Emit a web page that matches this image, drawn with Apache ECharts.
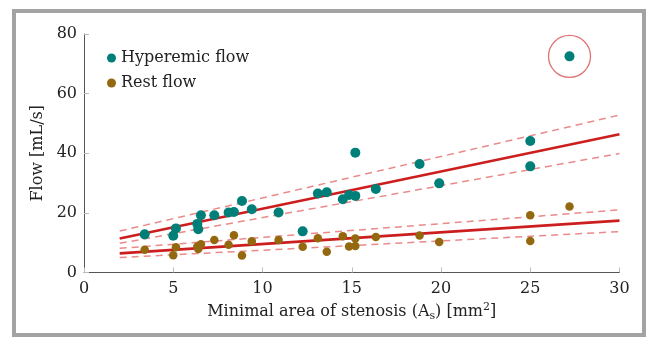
<!DOCTYPE html>
<html>
<head>
<meta charset="utf-8">
<script src="https://cdn.jsdelivr.net/npm/echarts@6/dist/echarts.min.js"></script>
<style>
  html, body { margin: 0; padding: 0; background: #fff; }
  #chart { width: 648px; height: 339px; }
</style>
</head>
<body>
<div id="chart"></div>
<script>
// Flujo vs área mínima de estenosis
const AREA = [3.4, 5.0, 5.15, 6.35, 6.4, 6.55, 7.3, 8.1, 8.4, 8.85, 9.4, 10.9, 12.25,
  13.1, 13.6, 14.5, 14.85, 15.2, 15.2, 16.35, 18.8, 19.9, 25.0, 25.0, 27.2];
const HYPEREMIC = [12.8, 12.3, 14.8, 16.3, 14.5, 19.2, 19.2, 20.1, 20.3, 24.0, 21.2, 20.1, 13.8,
  26.5, 26.9, 24.6, 26.0, 25.7, 40.2, 28.0, 36.4, 29.9, 44.1, 35.6, 72.5];
const REST = [7.6, 5.8, 8.5, 8.7, 7.9, 9.5, 10.9, 9.3, 12.5, 5.7, 10.5, 10.9, 8.6,
  11.5, 7.0, 12.2, 8.7, 11.4, 8.9, 11.9, 12.4, 10.2, 19.2, 10.6, 22.1];

// rectas de ajuste y bandas (extremos x = 2 y x = 30)
const FIT_X = [2, 30];
const HYP_FIT = [11.4, 46.4];
const HYP_UP = [13.9, 52.8];
const HYP_LO = [9.8, 39.9];
const REST_FIT = [6.4, 17.4];
const REST_UP = [8.1, 21.0];
const REST_LO = [5.0, 13.7];
const OUTLIER_IDX = 24;

const FONT = 'DejaVu Serif';
const TEAL = '#007f78';
const BROWN = '#94680f';
const RED = '#cc1e1e';
const RED_LIGHT = '#ea8a8a';

const pairs = (xs, ys) => xs.map((x, i) => [x, ys[i]]);

const solid = (name, ys) => ({
  name, type: 'line', data: pairs(FIT_X, ys), symbol: 'none', silent: true, z: 3,
  lineStyle: { color: RED, width: 2.6 },
});
const dashed = (name, ys) => ({
  name, type: 'line', data: pairs(FIT_X, ys), symbol: 'none', silent: true, z: 2,
  lineStyle: { color: RED_LIGHT, width: 1.5, type: [7, 5] },
});

const chart = echarts.init(document.getElementById('chart'), null, { renderer: 'canvas' });
chart.setOption({
  animation: false,
  backgroundColor: '#fff',
  textStyle: { fontFamily: FONT },
  grid: { left: 84, right: 28.5, top: 34, bottom: 66.5 },
  legend: {
    data: ['Hyperemic flow', 'Rest flow'],
    orient: 'vertical', left: 102, top: 45, itemGap: 9,
    itemWidth: 9, itemHeight: 9, icon: 'circle',
    textStyle: { fontFamily: FONT, fontSize: 16, color: '#222' },
  },
  xAxis: {
    type: 'value', min: 0, max: 30, interval: 5,
    name: 'Minimal area of stenosis (A{sub|s}) [mm{sup|2}]',
    nameLocation: 'middle', nameGap: 29,
    nameTextStyle: {
      fontFamily: FONT, fontSize: 16, color: '#222',
      rich: {
        sub: { fontFamily: FONT, fontSize: 11, color: '#222', padding: [8, 0, 0, 0] },
        sup: { fontFamily: FONT, fontSize: 11, color: '#222', padding: [0, 0, 10, 0] },
      },
    },
    axisLine: { lineStyle: { color: '#555', width: 1 } },
    axisTick: { inside: true, length: 5, lineStyle: { color: '#bbb' } },
    axisLabel: { fontFamily: FONT, fontSize: 16, color: '#222', margin: 8 },
    splitLine: { show: false },
  },
  yAxis: {
    type: 'value', min: 0, max: 80, interval: 20,
    name: 'Flow [mL/s]', nameLocation: 'middle', nameGap: 38, nameRotate: 90,
    nameTextStyle: { fontFamily: FONT, fontSize: 16, color: '#222' },
    axisLine: { show: true, lineStyle: { color: '#555', width: 1 } },
    axisTick: { show: true, inside: true, length: 5, lineStyle: { color: '#bbb' } },
    axisLabel: { fontFamily: FONT, fontSize: 16, color: '#222', margin: 7 },
    splitLine: { show: false },
  },
  series: [
    dashed('hyp-up', HYP_UP), dashed('hyp-lo', HYP_LO), solid('hyp-fit', HYP_FIT),
    dashed('rest-up', REST_UP), dashed('rest-lo', REST_LO), solid('rest-fit', REST_FIT),
    {
      name: 'Hyperemic flow', type: 'scatter', data: pairs(AREA, HYPEREMIC),
      symbolSize: 10, itemStyle: { color: TEAL, opacity: 1 }, z: 5,
    },
    {
      name: 'Rest flow', type: 'scatter', data: pairs(AREA, REST),
      symbolSize: 8.5, itemStyle: { color: BROWN, opacity: 1 }, z: 5,
    },
    {
      name: 'outlier', type: 'scatter', silent: true, z: 4,
      data: [[AREA[OUTLIER_IDX], HYPEREMIC[OUTLIER_IDX]]],
      symbolSize: 42,
      itemStyle: { color: 'rgba(0,0,0,0)', borderColor: '#e07474', borderWidth: 1.3, opacity: 1 },
    },
  ],
  graphic: [{
    type: 'rect', silent: true, z: 100,
    shape: { x: 14, y: 11, width: 630, height: 324 },
    style: { fill: null, stroke: '#a3a3a3', lineWidth: 4 },
  }],
});
</script>
</body>
</html>
